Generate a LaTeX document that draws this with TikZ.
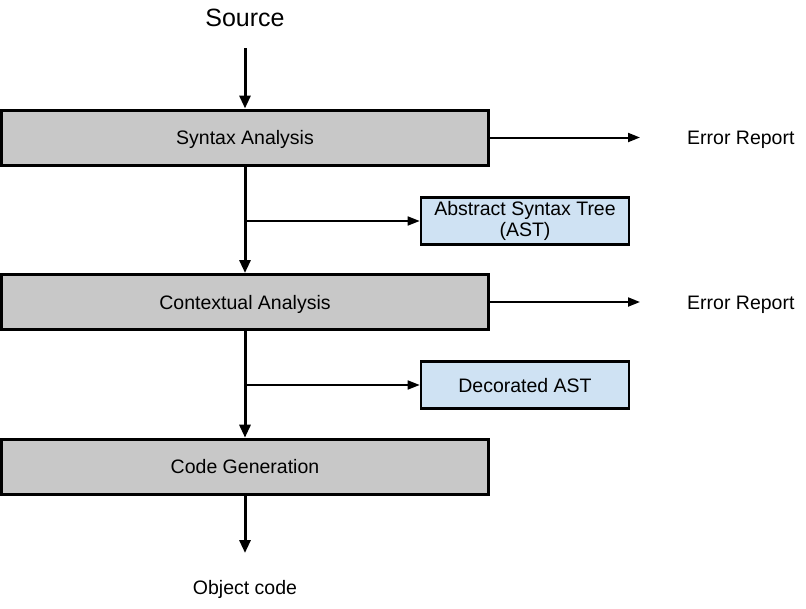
\documentclass[tikz,border=0pt]{standalone}
\usepackage{fontspec}
\setmainfont{Liberation Sans}
\usetikzlibrary{arrows.meta}
\definecolor{boxgray}{HTML}{C8C8C8}
\definecolor{boxblue}{HTML}{CFE2F3}
\begin{document}
\begin{tikzpicture}[x=1pt,y=-1pt,
  phase/.style={draw=black,line width=3pt,fill=boxgray,minimum width=487pt,minimum height=55pt,inner sep=0pt,text height=14pt,text depth=0pt,font=\fontsize{19.5}{22}\selectfont},
  result/.style={draw=black,line width=2.6pt,fill=boxblue,minimum width=208pt,minimum height=47pt,inner sep=0pt,align=center,font=\fontsize{19.5}{21.5}\selectfont},
  label/.style={inner sep=0pt,text height=14pt,text depth=0pt,font=\fontsize{19.5}{22}\selectfont},
  mainarrow/.style={line width=3pt,-{Triangle[length=13pt,width=11pt]}},
  sidearrow/.style={line width=2pt,-{Triangle[length=12pt,width=9pt]}},
  brancharrow/.style={line width=1.6pt,-{Triangle[length=12pt,width=9pt]}}]
\useasboundingbox (0,0) rectangle (806,608);
\node[inner sep=0pt,text height=18pt,text depth=0pt,font=\fontsize{25}{28}\selectfont] (src) at (245,17) {Source};
\coordinate (srcstart) at (245,48);
\node[phase] (syn) at (245,137.5) {Syntax Analysis};
\node[result] (ast) at (525,221) {Abstract Syntax Tree\\(AST)};
\node[phase] (ctx) at (245,302) {Contextual Analysis};
\node[result,text height=14pt,text depth=0pt] (dec) at (525,385) {Decorated AST};
\node[phase] (cg) at (245,466.7) {Code Generation};
\node[label] (obj) at (245,587) {Object code};
\coordinate (objend) at (245,553);
\coordinate (err1end) at (640,137.5);
\coordinate (err2end) at (640,302);
\node[label,anchor=west] (err1) at (687,137.5) {Error Report};
\node[label,anchor=west] (err2) at (687,302) {Error Report};
\coordinate (b1) at (245,221);
\coordinate (b2) at (245,385);

\draw[mainarrow] (srcstart) -- (syn.north);
\draw[mainarrow] (syn.south) -- (ctx.north);
\draw[mainarrow] (ctx.south) -- (cg.north);
\draw[mainarrow] (cg.south) -- (objend);
\draw[sidearrow] (syn.east) -- (err1end);
\draw[sidearrow] (ctx.east) -- (err2end);
\draw[brancharrow] (b1) -- (ast.west);
\draw[brancharrow] (b2) -- (dec.west);
\end{tikzpicture}
\end{document}
